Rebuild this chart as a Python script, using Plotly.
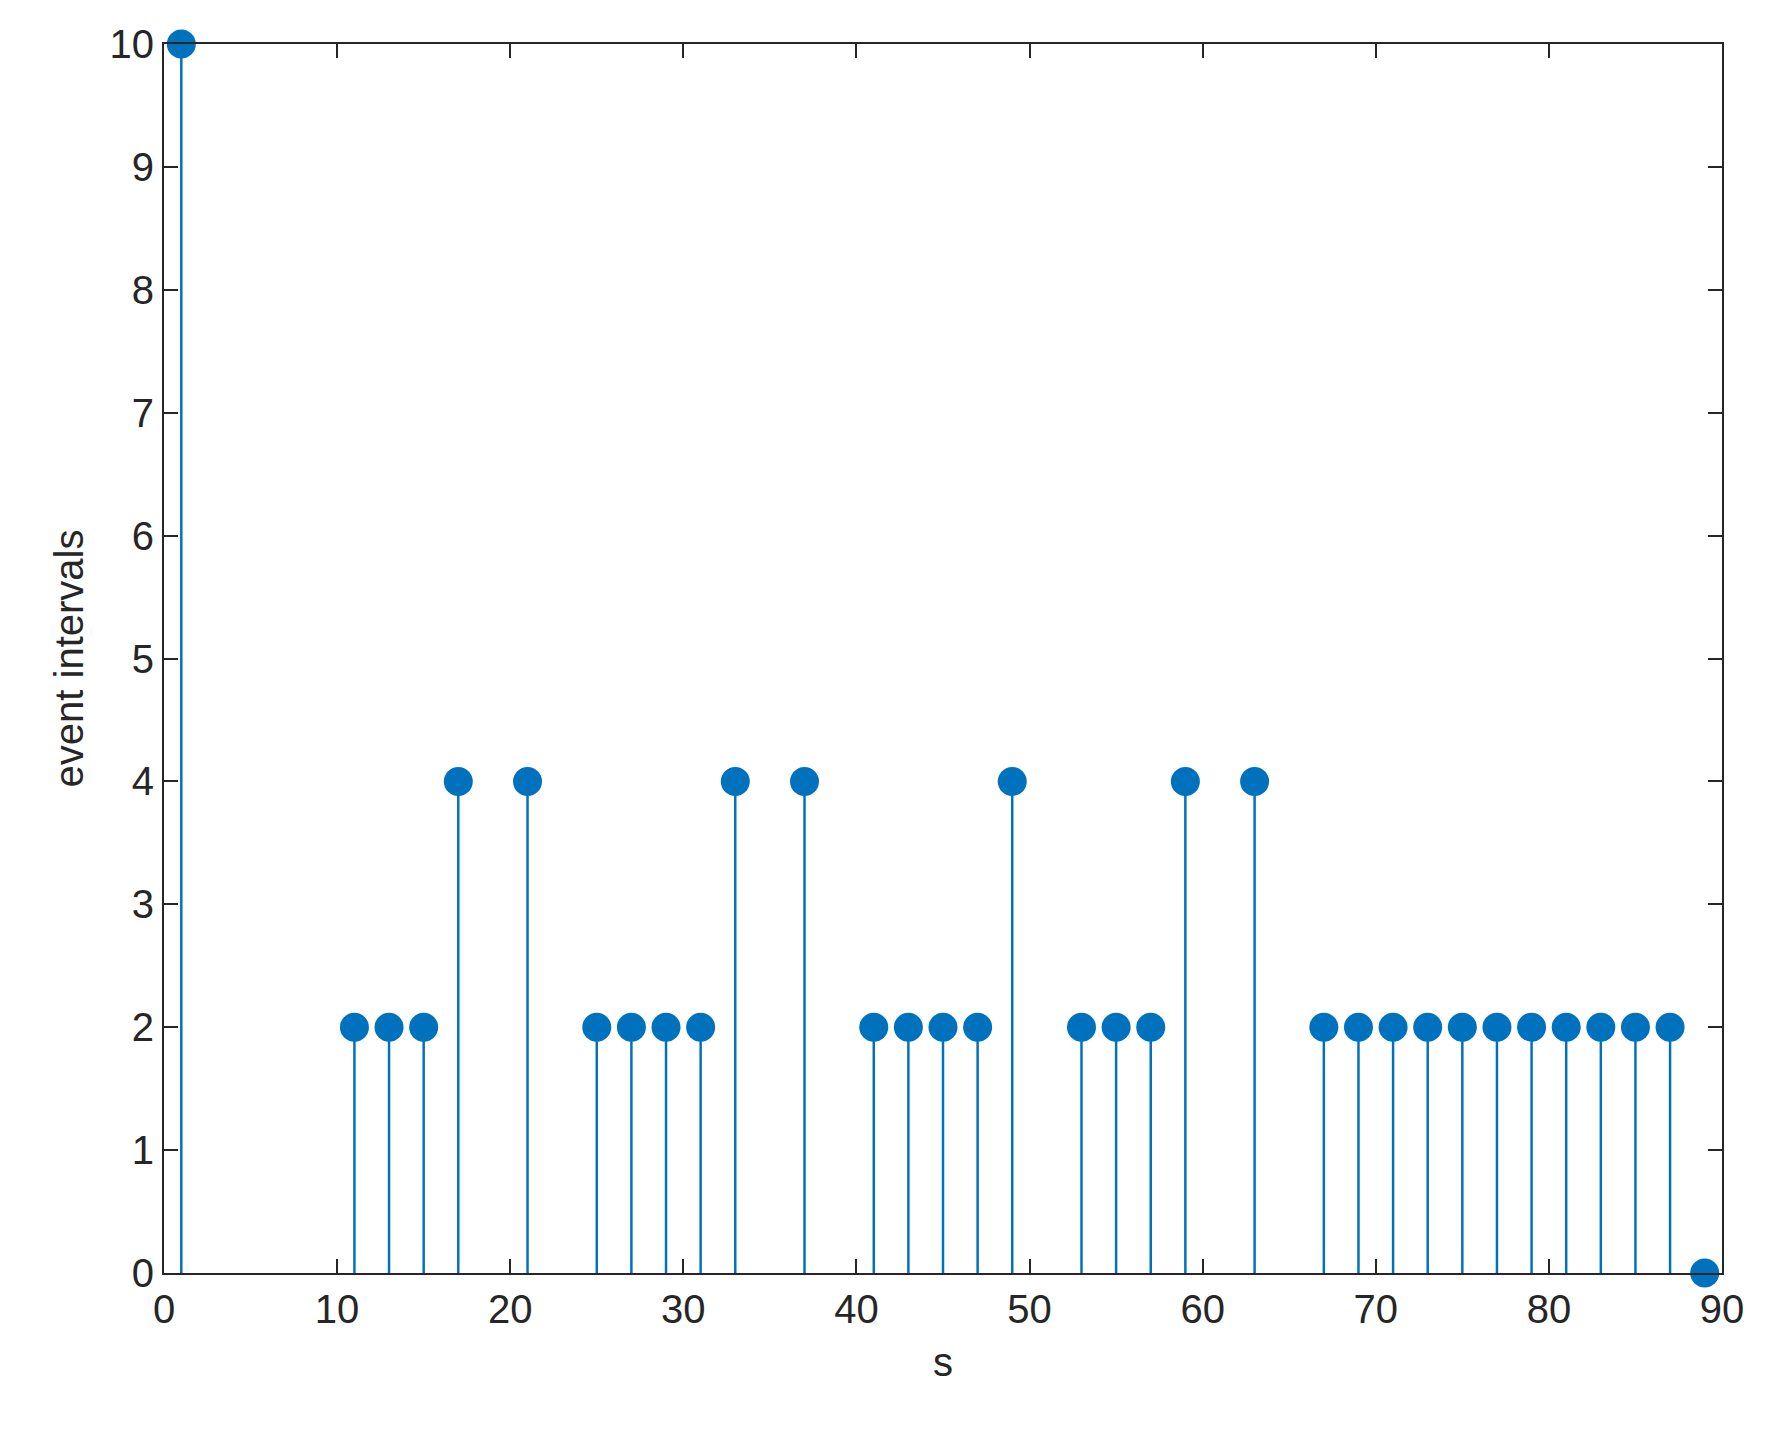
import plotly.graph_objects as go

s = [1, 11, 13, 15, 17, 21, 25, 27, 29, 31, 33, 37, 41, 43, 45, 47, 49,
     53, 55, 57, 59, 63, 67, 69, 71, 73, 75, 77, 79, 81, 83, 85, 87, 89]
intervals = [10, 2, 2, 2, 4, 4, 2, 2, 2, 2, 4, 4, 2, 2, 2, 2, 4,
             2, 2, 2, 4, 4, 2, 2, 2, 2, 2, 2, 2, 2, 2, 2, 2, 0]

color = "#0072BD"

# stems
sx, sy = [], []
for x, y in zip(s, intervals):
    sx += [x, x, None]
    sy += [0, y, None]

fig = go.Figure()
fig.add_trace(go.Scatter(x=sx, y=sy, mode="lines", cliponaxis=False,
                         line=dict(color=color, width=2.5), hoverinfo="skip"))
fig.add_trace(go.Scatter(x=s, y=intervals, mode="markers", cliponaxis=False,
                         marker=dict(color=color, size=29)))

font = dict(family="Liberation Sans, Arial", size=40, color="#262626")
axis = dict(showgrid=False, zeroline=False, showline=True, linecolor="#262626",
            linewidth=2, mirror="ticks", ticks="inside", ticklen=14,
            tickwidth=2, tickcolor="#262626", tickfont=font)

fig.update_xaxes(range=[0, 90], dtick=10, title=dict(text="s", standoff=18, font=font), **axis)
fig.update_yaxes(range=[0, 10], dtick=1, title=dict(text="event intervals", standoff=14, font=font), **axis)

fig.update_layout(width=1773, height=1437, showlegend=False,
                  plot_bgcolor="white", paper_bgcolor="white",
                  margin=dict(l=156, r=59, t=36, b=172))

fig.write_html("out.html")
